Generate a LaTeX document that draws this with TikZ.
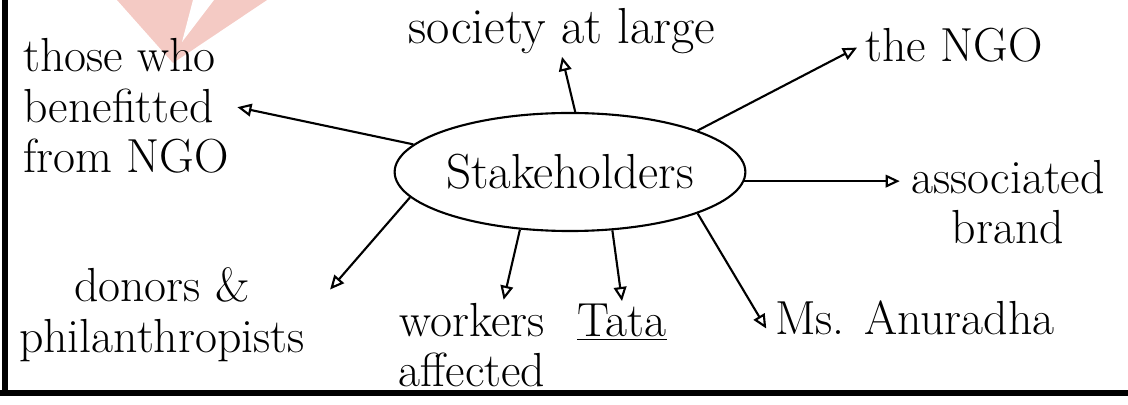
\documentclass[tikz,border=0pt]{standalone}
\usepackage{tikz}
\usetikzlibrary{shapes.geometric,arrows.meta}

\definecolor{wmark}{RGB}{244,202,196}
\tikzset{
    lbl/.style={align=center, inner sep=2pt, font=\fontsize{34}{36}\selectfont},
    arr/.style={line width=1.5pt, -{Triangle[open,length=10pt,width=9pt]}}
}

\begin{document}
\begin{tikzpicture}[x=0.025cm, y=-0.025cm]
    \useasboundingbox (0,0) rectangle (1128,405);
    % watermark and page frame
    \fill[wmark] (117,0) -- (267,0) -- (173,63) -- cycle;
    \fill[white] (193,0) -- (214,0) -- (182,42) -- cycle;
    \draw[line width=4pt] (5,0) -- (5,394);
    \draw[line width=4.5pt] (0,393) -- (1128,393);

    \node[ellipse, draw, line width=1.5pt, inner sep=0pt, minimum width=8.4cm, minimum height=2.95cm,
        font=\fontsize{35}{40}\selectfont] (stake) at (570,172) {Stakeholders};

    \node[lbl, font=\fontsize{36}{40}\selectfont] (society) at (562,31) {society at large};
    \node[lbl, align=left, anchor=west] (benefit) at (20,106) {those who\\benefitted\\from NGO};
    \node[lbl, anchor=west] (ngo) at (862,45) {the NGO};
    \node[lbl] (assoc) at (1008,202) {associated\\brand};
    \node[lbl] (donors) at (162,315) {donors \&\\philanthropists};
    \node[lbl] (workers) at (472,345) {workers\\affected};
    \node[lbl] (tata) at (622,322) {\underline{Tata}};
    \node[lbl, anchor=west] (anu) at (772,318) {Ms. Anuradha};

    \draw[arr] (stake.85) -- (society.south);
    \draw[arr, shorten >=4pt] (stake.170) -- (benefit.east);
    \draw[arr, shorten >=4pt] (stake.18) -- (ngo.west);
    \draw[arr, shorten >=6pt] (stake.-3) -- (stake.-3 -| assoc.west);
    \draw[arr, shorten >=24pt] (stake.189) -- (donors.east);
    \draw[arr] (stake.229) -- (workers.55);
    \draw[arr] (stake.306) -- (tata.north);
    \draw[arr, shorten >=8pt] (stake.-18) -- (anu.south west);
\end{tikzpicture}
\end{document}
